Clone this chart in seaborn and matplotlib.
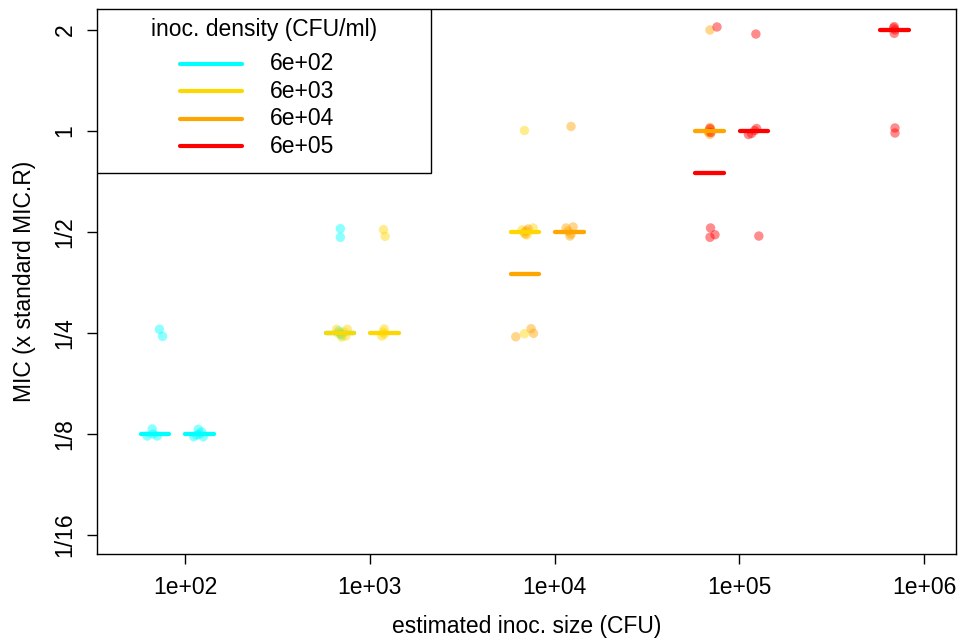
import numpy as np
import pandas as pd
import matplotlib
matplotlib.use("Agg")
import matplotlib.pyplot as plt
from matplotlib.patches import Rectangle
from matplotlib.ticker import FixedLocator, FixedFormatter, NullLocator
import seaborn as sns

# ---------------- data ----------------
density_labels = ["6e+02", "6e+03", "6e+04", "6e+05"]
colors = ["#00FFFF", "#FFD700", "#FFA500", "#FF0000"]

# estimated inoculum size (CFU), MIC (x standard), and read-off jitter
cyan_size = [69] * 6 + [120] * 6 + [690] * 6
cyan_mic = [1/4, 1/4, 1/8, 1/8, 1/8, 1/8,
            1/8, 1/8, 1/8, 1/8, 1/8, 1/8,
            1/2, 1/2, 1/4, 1/4, 1/4, 1/4]
cyan_xj = [0.023, 0.040, -0.043, -0.016, 0.011, -0.011,
           -0.031, -0.007, 0.020, 0.0, -0.016, 0.011,
           0.002, 0.002, 0.002, 0.009, -0.007, 0.004]
cyan_yj = [0.037, -0.033, -0.020, 0.050, -0.020, 0.0,
           -0.027, 0.047, -0.027, 0.0, -0.010, 0.020,
           0.033, -0.052, 0.0, -0.020, 0.020, -0.010]

yellow_size = [690] * 6 + [1200] * 6 + [6900] * 6
yellow_mic = [1/4, 1/4, 1/4, 1/4, 1/4, 1/4,
              1/2, 1/2, 1/4, 1/4, 1/4, 1/4,
              1, 1/2, 1/2, 1/2, 1/2, 1/4]
yellow_xj = [-0.018, 0.040, 0.031, 0.009, -0.012, 0.020,
             -0.005, 0.004, -0.001, -0.014, -0.001, -0.006,
             -0.002, -0.004, 0.045, 0.012, -0.015, -0.002]
yellow_yj = [0.037, 0.037, -0.030, -0.040, 0.0, 0.010,
             0.023, -0.043, 0.040, -0.030, -0.010, 0.010,
             0.005, 0.0, 0.040, -0.030, 0.020, -0.007]

orange_size = [6900] * 6 + [12000] * 6 + [69000] * 6
orange_mic = [1/2, 1/2, 1/2, 1/4, 1/4, 1/4,
              1, 1/2, 1/2, 1/2, 1/2, 1/2,
              2, 1, 1, 1, 1, 1]
orange_xj = [0.007, 0.002, 0.018, -0.049, 0.034, 0.047,
             0.010, -0.017, 0.021, 0.010, -0.006, 0.004,
             0.002, 0.002, 0.002, -0.009, 0.007, -0.004]
orange_yj = [0.010, -0.020, 0.030, -0.037, 0.043, -0.003,
             0.045, 0.040, 0.050, -0.020, 0.010, -0.040,
             0.0, 0.035, -0.035, -0.005, 0.015, -0.015]

red_size = [69000] * 6 + [120000] * 6 + [690000] * 6
red_mic = [2, 1, 1, 1/2, 1/2, 1/2,
           2, 1, 1, 1, 1, 1/2,
           2, 2, 2, 2, 1, 1]
red_xj = [0.040, 0.002, 0.007, 0.005, 0.002, 0.029,
          0.010, -0.030, 0.003, 0.014, -0.014, 0.026,
          -0.001, -0.001, 0.002, -0.004, 0.003, 0.003]
red_yj = [0.030, 0.025, -0.015, 0.040, -0.052, -0.027,
          -0.040, -0.035, 0.005, 0.025, -0.025, -0.040,
          0.033, -0.033, 0.0, 0.020, 0.030, -0.020]

x_ticks = [1e2, 1e3, 1e4, 1e5, 1e6]
x_tick_labels = ["1e+02", "1e+03", "1e+04", "1e+05", "1e+06"]
y_ticks = [1/16, 1/8, 1/4, 1/2, 1, 2]
y_tick_labels = ["1/16", "1/8", "1/4", "1/2", "1", "2"]

# ---------------- build table ----------------
frames = []
for lab, s, m, xj, yj in zip(density_labels,
                             [cyan_size, yellow_size, orange_size, red_size],
                             [cyan_mic, yellow_mic, orange_mic, red_mic],
                             [cyan_xj, yellow_xj, orange_xj, red_xj],
                             [cyan_yj, yellow_yj, orange_yj, red_yj]):
    d = pd.DataFrame({"density": lab, "size": s, "mic": m, "xj": xj, "yj": yj})
    frames.append(d)
df = pd.concat(frames, ignore_index=True)
df["x"] = df["size"] * 10 ** df["xj"]
df["y"] = df["mic"] * 2 ** df["yj"]

# ---------------- plot ----------------
sns.set_theme(style="ticks")
plt.rcParams["font.family"] = ["Liberation Sans", "DejaVu Sans"]
plt.rcParams["text.color"] = "black"
plt.rcParams["axes.labelcolor"] = "black"
FS = 16.5

fig = plt.figure(figsize=(9.58, 6.39), dpi=100)
ax = fig.add_axes([96.7 / 958, 1 - 554 / 639, (956 - 96.7) / 958, (554 - 9.3) / 639])

half = 1.195
for lab, col in zip(density_labels, colors):
    sub = df[df["density"] == lab]
    sns.scatterplot(data=sub, x="x", y="y", color=col, alpha=0.45, s=46,
                    edgecolor="none", linewidth=0, ax=ax, legend=False, zorder=2)
    med = sub.groupby("size")["mic"].median()
    for size, m in med.items():
        ax.plot([size / half, size * half], [m, m], color=col, lw=3.1,
                solid_capstyle="round", zorder=3)

ax.set_xscale("log")
ax.set_yscale("log", base=2)
ax.set_xlim(33.3, 1.486e6)
ax.set_ylim(2 ** -4.188, 2 ** 1.205)

ax.xaxis.set_major_locator(FixedLocator(x_ticks))
ax.xaxis.set_major_formatter(FixedFormatter(x_tick_labels))
ax.xaxis.set_minor_locator(NullLocator())
ax.yaxis.set_major_locator(FixedLocator(y_ticks))
ax.yaxis.set_major_formatter(FixedFormatter(y_tick_labels))
ax.yaxis.set_minor_locator(NullLocator())

ax.tick_params(axis="both", which="major", length=7.5, width=1.0, color="black",
               labelsize=FS, labelcolor="black", direction="out")
ax.tick_params(axis="x", pad=8)
ax.tick_params(axis="y", pad=7)
for lbl in ax.get_yticklabels():
    lbl.set_rotation(90)
    lbl.set_va("center")

for sp in ax.spines.values():
    sp.set_visible(True)
    sp.set_color("black")
    sp.set_linewidth(1.0)

ax.set_xlabel("estimated inoc. size (CFU)", fontsize=FS, labelpad=12)
ax.set_ylabel("MIC (x standard MIC.R)", fontsize=FS, labelpad=13)

# ---------------- legend (R style box) ----------------
ax.add_patch(Rectangle((0, 0.699), 0.3896, 0.301, transform=ax.transAxes,
                       facecolor="white", edgecolor="black", lw=1.0, zorder=5))
ax.text(0.1947, 0.962, "inoc. density (CFU/ml)", transform=ax.transAxes,
        ha="center", va="center", fontsize=FS, zorder=6)
rows = [0.8996, 0.8495, 0.7993, 0.7490]
for lab, col, yy in zip(density_labels, colors, rows):
    ax.plot([0.0969, 0.1691], [yy, yy], transform=ax.transAxes, color=col, lw=3.0,
            solid_capstyle="round", zorder=6)
    ax.text(0.2017, yy, lab, transform=ax.transAxes, ha="left", va="center",
            fontsize=FS, zorder=6)

fig.savefig("out.png", dpi=100)
